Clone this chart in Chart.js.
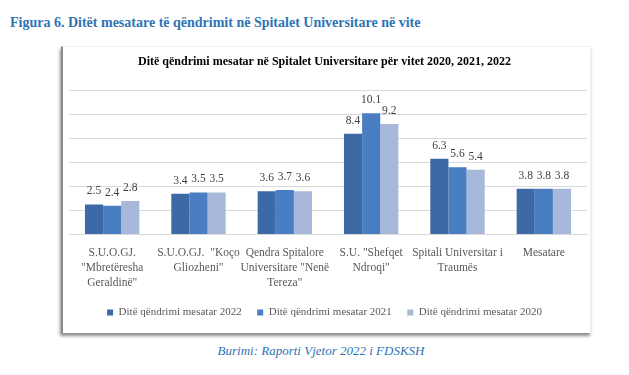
<!DOCTYPE html>
<html>
<head>
<meta charset="utf-8">
<script src="https://cdn.jsdelivr.net/npm/chart.js@4"></script>
<style>
  body { margin: 0; width: 629px; height: 375px; background: #fff; position: relative; overflow: hidden; font-family: "Liberation Serif", serif; }
  #heading { position: absolute; left: 10px; top: 15px; font-weight: bold; font-size: 14px; color: #2E74B5; white-space: nowrap; }
  #box { position: absolute; left: 61px; top: 46px; width: 527px; height: 286px; background: #fff;
         border-left: 2px solid #8a8a8a; border-top: 1px solid #f0f0f0; border-right: 1px solid #f0f0f0;
         box-shadow: -1px 3px 3px rgba(0,0,0,0.45); }
  #chart { position: absolute; left: 62px; top: 46px; }
  #source { position: absolute; top: 343px; left: 0; width: 642px; line-height: 15px; text-align: center; font-style: italic; font-size: 13px; color: #2E74B5; }
</style>
</head>
<body>
<div id="heading">Figura 6. Ditët mesatare të qëndrimit në Spitalet Universitare në vite</div>
<div id="box"></div>
<canvas id="chart" width="527" height="282"></canvas>
<div id="source">Burimi: Raporti Vjetor 2022 i FDSKSH</div>
<script>
// Kategoritë (spitalet) dhe vlerat sipas viteve
const hospitals = [
  ['S.U.O.GJ.', '"Mbretëresha', 'Geraldinë"'],
  ['S.U.O.GJ.  "Koço', 'Gliozheni"'],
  ['Qendra Spitalore', 'Universitare "Nenë', 'Tereza"'],
  ['S.U. "Shefqet', 'Ndroqi"'],
  ['Spitali Universitar i', 'Traumës'],
  ['Mesatare']
];
const seriesNames = ['Ditë qëndrimi mesatar 2022', 'Ditë qëndrimi mesatar 2021', 'Ditë qëndrimi mesatar 2020'];
const values2022 = [2.5, 3.4, 3.6, 8.4, 6.3, 3.8];
const values2021 = [2.4, 3.5, 3.7, 10.1, 5.6, 3.8];
const values2020 = [2.8, 3.5, 3.6, 9.2, 5.4, 3.8];
const yTicks = [0, 2, 4, 6, 8, 10, 12];

const colors = ['#3D69A6', '#4A7EC2', '#A8B8DA'];
const serif = '"Liberation Serif", "Times New Roman", serif';

// vizaton vlerat mbi shtyllat
const valueLabels = {
  id: 'valueLabels',
  afterDatasetsDraw(chart) {
    const ctx = chart.ctx;
    ctx.save();
    ctx.font = '11.5px ' + serif;
    ctx.fillStyle = '#404040';
    ctx.textAlign = 'center';
    ctx.textBaseline = 'alphabetic';
    chart.data.datasets.forEach((ds, i) => {
      chart.getDatasetMeta(i).data.forEach((bar, j) => {
        ctx.fillText(ds.data[j].toFixed(1), bar.x, bar.y - 10);
      });
    });
    ctx.restore();
  }
};

new Chart(document.getElementById('chart'), {
  type: 'bar',
  data: {
    labels: hospitals,
    datasets: [values2022, values2021, values2020].map((vals, i) => ({
      label: seriesNames[i],
      data: vals,
      backgroundColor: colors[i],
      borderWidth: 0,
      categoryPercentage: 0.63,
      barPercentage: 1.0
    }))
  },
  options: {
    responsive: false,
    animation: false,
    layout: { padding: { left: 0, right: 2, top: 0, bottom: 0 } },
    plugins: {
      title: {
        display: true,
        text: 'Ditë qëndrimi mesatar në Spitalet Universitare për vitet 2020, 2021, 2022',
        color: '#000',
        font: { family: serif, size: 12, weight: 'bold' },
        padding: { top: 9, bottom: 21 }
      },
      legend: {
        position: 'bottom',
        labels: {
          boxWidth: 6, boxHeight: 6, padding: 15.5,
          color: '#595959',
          font: { family: serif, size: 11 }
        }
      },
      tooltip: { enabled: false }
    },
    scales: {
      x: {
        grid: { display: false, drawTicks: false },
        border: { color: '#D9D9D9' },
        ticks: { color: '#595959', font: { family: serif, size: 11.5, lineHeight: 1.3 }, padding: 11, maxRotation: 0, autoSkip: false },
        afterFit: axis => { axis.height = 57; }
      },
      y: {
        min: yTicks[0],
        max: yTicks[yTicks.length - 1],
        afterBuildTicks: axis => { axis.ticks = yTicks.map(v => ({ value: v })); },
        ticks: { display: false },
        grid: { color: '#D9D9D9', drawTicks: false },
        border: { display: false },
        afterFit: axis => { axis.width = 7; }
      }
    }
  },
  plugins: [valueLabels]
});
</script>
</body>
</html>
